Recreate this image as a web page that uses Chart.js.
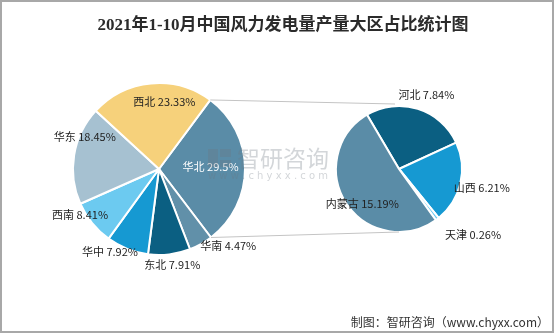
<!DOCTYPE html>
<html>
<head>
<meta charset="utf-8">
<script src="https://cdn.jsdelivr.net/npm/chart.js@4"></script>
<style>
  body { margin: 0; background: #fff; }
  #wrap { position: relative; width: 554px; height: 333px; overflow: hidden; background: #fff; }
  #wrap canvas { position: absolute; left: 0; top: 0; }
  #title { position: absolute; left: 0; top: 13px; width: 566px; text-align: center;
    font: bold 17px "Liberation Serif", "Noto Sans CJK SC", serif; color: #2b2b2b; line-height: 24px; }
  #source { position: absolute; right: 5px; top: 313px; font: 12px "Noto Sans CJK SC", sans-serif; color: #333; }
  #frame { position: absolute; left: 0; top: 0; width: 554px; height: 333px; box-sizing: border-box;
    border: 2px solid #a8a8a8; pointer-events: none; }
</style>
</head>
<body>
<div id="wrap">
  <canvas id="big-pie" width="554" height="333"></canvas>
  <canvas id="small-pie" width="554" height="333"></canvas>
  <div id="title">2021年1-10月中国风力发电量产量大区占比统计图</div>
  <div id="source">制图：智研咨询（www.chyxx.com）</div>
  <div id="frame"></div>
</div>
<script>
// regions (%), clockwise from the 华北 slice
const regions = ['华北', '华南', '东北', '华中', '西南', '华东', '西北'];
const regionShare = [29.5, 4.47, 7.91, 7.92, 8.41, 18.45, 23.33];
const regionColors = ['#5a8ca7', '#6190a9', '#0b5f82', '#1699d2', '#6ccaf0', '#a6c1d1', '#f6d17b'];

// breakdown of 华北 (%)
const provinces = ['河北', '山西', '天津', '内蒙古'];
const provinceShare = [7.84, 6.21, 0.26, 15.19];
const provinceColors = ['#0b5f82', '#1699d2', '#6ccaf0', '#5a8ca7'];

const labelFont = '11px "Noto Sans CJK SC", sans-serif';

// draws "name value%" near each slice
const sliceLabels = {
    id: 'sliceLabels',
    afterDatasetsDraw(chart, args, opts) {
        const ctx = chart.ctx;
        const meta = chart.getDatasetMeta(0);
        const names = chart.data.labels;
        const values = chart.data.datasets[0].data;
        ctx.save();
        ctx.font = labelFont;
        ctx.textAlign = 'center';
        ctx.textBaseline = 'middle';
        meta.data.forEach((arc, i) => {
            const p = arc.getProps(['x', 'y', 'startAngle', 'endAngle', 'outerRadius'], true);
            const mid = (p.startAngle + p.endAngle) / 2 + (opts.shift[i] || 0) * Math.PI / 180;
            const r = p.outerRadius * opts.dist[i];
            ctx.fillStyle = opts.colors[i] || '#222';
            ctx.fillText(names[i] + ' ' + values[i] + '%', p.x + r * Math.cos(mid), p.y + r * Math.sin(mid));
        });
        ctx.restore();
    }
};

function pieOptions(padding, rotation, labelOpts) {
    return {
        responsive: false,
        animation: false,
        rotation: rotation,
        layout: { padding: padding },
        plugins: {
            legend: { display: false },
            tooltip: { enabled: false },
            sliceLabels: labelOpts
        },
        events: []
    };
}

const bigChart = new Chart(document.querySelector('#big-pie').getContext('2d'), {
    type: 'pie',
    data: {
        labels: regions,
        datasets: [{
            data: regionShare,
            backgroundColor: regionColors,
            borderColor: '#fff',
            borderWidth: 2,
            hoverOffset: 0
        }]
    },
    options: pieOptions({ left: 72, top: 82, right: 308, bottom: 77 }, 36.6, {
        dist: [0.6, 1.2, 1.13, 1.12, 1.06, 0.94, 0.78],
        shift: [-2, -13, -1, 9, 9, 14, 10],
        colors: ['#fff']
    }),
    plugins: [sliceLabels]
});

// connecting lines + watermark go on top canvas
const overlay = {
    id: 'overlay',
    afterDraw(chart) {
        const ctx = chart.ctx;
        const src = bigChart.getDatasetMeta(0).data[0].getProps(['x', 'y', 'startAngle', 'endAngle', 'outerRadius'], true);
        const dst = chart.getDatasetMeta(0).data[0].getProps(['x', 'y', 'outerRadius'], true);
        ctx.save();
        ctx.strokeStyle = '#c4c4c4';
        ctx.lineWidth = 1;
        ctx.beginPath();
        ctx.moveTo(src.x + src.outerRadius * Math.cos(src.startAngle), src.y + src.outerRadius * Math.sin(src.startAngle));
        ctx.lineTo(dst.x - 4, dst.y - dst.outerRadius - 2);
        ctx.moveTo(src.x + src.outerRadius * Math.cos(src.endAngle), src.y + src.outerRadius * Math.sin(src.endAngle));
        ctx.lineTo(dst.x, dst.y + dst.outerRadius);
        ctx.stroke();

        // watermark
        ctx.fillStyle = 'rgba(110,120,130,0.3)';
        ctx.fillRect(208, 149, 10, 18);
        ctx.fillRect(220, 149, 11, 8);
        ctx.fillRect(220, 160, 11, 7);
        ctx.font = '23px "Noto Sans CJK SC", sans-serif';
        ctx.textBaseline = 'middle';
        ctx.textAlign = 'left';
        ctx.fillText('智研咨询', 237, 158);
        ctx.font = '10px "DejaVu Sans", sans-serif';
        ctx.fillText('w w w . c h y x x . c o m', 208, 176);
        ctx.restore();
    }
};

new Chart(document.querySelector('#small-pie').getContext('2d'), {
    type: 'pie',
    data: {
        labels: provinces,
        datasets: [{
            data: provinceShare,
            backgroundColor: provinceColors,
            borderColor: '#fff',
            borderWidth: 2,
            hoverOffset: 0
        }]
    },
    options: pieOptions({ left: 335, top: 105, right: 91, bottom: 100 }, -30.5, {
        dist: [1.25, 1.35, 1.57, 0.8],
        shift: [3, 0, -11, -10],
        colors: []
    }),
    plugins: [sliceLabels, overlay]
});
</script>
</body>
</html>
